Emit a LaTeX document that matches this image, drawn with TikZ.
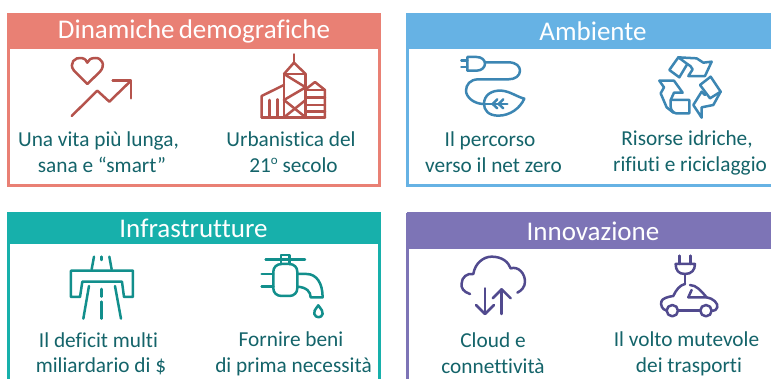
\documentclass[tikz,border=0pt]{standalone}
\usepackage{fontspec}
\setmainfont{Carlito}[Ligatures=NoCommon]
\definecolor{redh}{HTML}{E98074}
\definecolor{redi}{HTML}{B5534C}
\definecolor{blueh}{HTML}{66B2E4}
\definecolor{bluei}{HTML}{3C86B3}
\definecolor{tealh}{HTML}{17B0AB}
\definecolor{teali}{HTML}{128F8C}
\definecolor{purh}{HTML}{7D74B6}
\definecolor{puri}{HTML}{514A8E}
\definecolor{txt}{HTML}{14646A}
\tikzset{
 hdr/.style={font=\fontsize{27}{27}\selectfont,text=white,anchor=center,inner sep=0pt},
 lab/.style={font=\fontsize{21.3}{25.5}\selectfont,text=txt,align=center,anchor=center,inner sep=0pt},
 ico/.style={line width=2.5pt,line join=round,line cap=round},
 frame/.style={line width=2.2pt},
}
\begin{document}
\begin{tikzpicture}[x=1pt,y=-1pt]
\useasboundingbox (0,0) rectangle (771,378);
\fill[white] (0,0) rectangle (771,378);
% frames
\draw[frame,redh] (8.5,14) rectangle (379.5,185.5);
\fill[redh] (7.5,12.5) rectangle (380.5,49);
\draw[frame,blueh] (772,14) -- (407.5,14) -- (407.5,185.5) -- (772,185.5);
\fill[blueh] (406.5,12.5) rectangle (771,49);
\draw[frame,tealh] (8.5,379) -- (8.5,213) -- (379.5,213) -- (379.5,379);
\fill[tealh] (7.5,212) rectangle (380.5,244);
\draw[frame,purh] (407.5,379) -- (407.5,213);
\fill[purh] (406.5,212) rectangle (771,249);
\node[hdr] (h1) at (194,31) {Dinamiche\hspace{-2pt} demografiche};
\node[hdr] (h2) at (593,31) {Ambiente};
\node[hdr] (h3) at (193.5,228.5) {Infrastrutture};
\node[hdr] (h4) at (593,231) {Innovazione};
\node[lab] (l1) at (98.5,152) {Una vita più lunga,\\\hspace*{7pt}sana e “smart”};
\node[lab] (l2) at (291,152) {Urbanistica del\\\hspace*{5pt}21\raisebox{.36em}{\fontsize{13}{13}\selectfont o} secolo};
\node[lab] (l3) at (490,152) {Il percorso\\\hspace*{7pt}verso il net zero};
\node[lab] (l4) at (687,153) {Risorse idriche,\\\hspace*{6pt}rifiuti e riciclaggio};
\node[lab] (l5) at (98.5,354) {Il deficit multi\\\hspace*{5pt}miliardario di \$};
\node[lab] (l6) at (291,354) {Fornire beni\\\hspace*{5pt}di prima necessità};
\node[lab] (l7) at (493,353) {Cloud e\\connettività};
\node[lab] (l8) at (686.5,354) {Il volto mutevole\\\hspace*{5pt}dei trasporti};
% heart + arrow
\begin{scope}[ico,draw=redi,x=.3333pt,y=-.3333pt]
\draw (262,252) -- (222,212) .. controls (205,190) and (225,170) .. (245,174) .. controls (255,176) and (260,182) .. (262,188) .. controls (265,180) and (272,174) .. (285,174) .. controls (305,172) and (318,195) .. (300,215) -- cycle;
\draw (215,348) -- (292,272) -- (328,305) -- (393,242);
\draw (338,242) -- (393,242) -- (393,295);
% buildings
\draw (882,163) -- (882,190);
\draw (852,222) -- (882,188) -- (917,222);
\draw (852,222) -- (917,222) -- (917,352) -- (852,352) -- cycle;
\draw (852,222) -- (917,262) -- (852,300) -- (917,352);
\draw (852,352) -- (917,300);
\draw (785,352) -- (975,352);
\draw (785,352) -- (785,288) -- (852,255);
\draw (808,352) -- (808,300);
\draw (832,352) -- (832,298);
\draw (917,268) -- (945,246) -- (975,270) -- (975,352);
\draw (917,270) -- (975,270);
\draw (917,292) -- (975,292);
\draw (917,315) -- (975,315);
\draw (917,335) -- (975,335);
\end{scope}
% plug + leaf
\begin{scope}[ico,draw=bluei,x=.3333pt,y=-.3333pt,xshift=390pt]
\draw (214,181) -- (232,181);
\draw (214,201) -- (232,201);
\draw (232,171) -- (260,171) .. controls (275,171) and (285,180) .. (285,191) .. controls (285,202) and (275,212) .. (260,212) -- (232,212) -- cycle;
\draw (285,187) -- (355,187) .. controls (380,187) and (390,200) .. (390,212) .. controls (390,228) and (375,238) .. (355,238) -- (265,238) .. controls (240,238) and (228,255) .. (228,272) .. controls (228,290) and (250,312) .. (282,312);
\draw (282,312) .. controls (282,285) and (305,270) .. (335,272) .. controls (360,274) and (380,290) .. (403,296) .. controls (390,325) and (360,347) .. (325,347) .. controls (295,347) and (282,330) .. (282,312);
\draw (282,312) -- (352,312);
\draw (322,298) -- (308,312) -- (322,325);
\draw (340,298) -- (326,312) -- (340,325);
\end{scope}
% recycle
\begin{scope}[ico,draw=bluei,x=.3333pt,y=-.3333pt,xshift=650pt,yshift=-50pt]
\draw (58,60) -- (85,22) -- (112,42) -- (88,82) -- cycle;
\draw (85,22) -- (140,25) -- (160,38) -- (185,35) -- (165,78) -- (115,78) -- (128,58) .. controls (125,50) and (118,45) .. (112,42);
\draw (62,150) -- (118,150) -- (118,190) -- (78,190) .. controls (68,188) and (62,178) .. (62,170) -- cycle;
\draw (28,92) -- (72,92) -- (98,128) -- (72,128) -- (62,150);
\draw (28,92) -- (42,112) -- (32,130) -- (50,172) -- (70,188);
\draw (150,105) -- (182,80) -- (212,125) -- (180,145) -- cycle;
\draw (212,125) -- (190,165) -- (155,172) -- (155,203) -- (130,165) -- (155,125) -- (165,135);
\end{scope}
% road
\begin{scope}[ico,draw=teali,x=.3333pt,y=-.3333pt,yshift=-190pt]
\draw (275,238) -- (282,200);
\draw (335,238) -- (328,200);
\draw (305,200) -- (305,210);
\draw (213,242) -- (399,242) -- (399,321) -- (372,321) -- (366,275) -- (247,275) -- (240,321) -- (213,321) -- cycle;
\draw (267,288) -- (250,386);
\draw (345,288) -- (363,386);
\draw (305,297) -- (305,320);
\draw (305,335) -- (305,386);
% tap
\draw (797,209) -- (915,209);
\draw (843,222) -- (843,195) -- (868,195) -- (868,222);
\draw (855,222) -- (845,222) .. controls (830,222) and (820,232) .. (820,245) -- (820,295) .. controls (820,308) and (830,318) .. (845,318) -- (868,318) .. controls (882,318) and (892,308) .. (892,295) -- (892,245) .. controls (892,232) and (882,222) .. (868,222) -- cycle;
\draw (785,252) -- (820,252);
\draw (785,290) -- (820,290);
\draw (892,252) -- (920,252) .. controls (950,252) and (968,280) .. (968,322) -- (932,322) .. controls (932,305) and (920,292) .. (892,290);
\draw (955,346) .. controls (945,360) and (940,365) .. (943,372) .. controls (947,385) and (965,385) .. (968,372) .. controls (970,365) and (965,360) .. (955,346) -- cycle;
\end{scope}
% cloud
\begin{scope}[ico,draw=puri,x=.3333pt,y=-.3333pt,xshift=390pt,yshift=-190pt]
\draw (240,312) .. controls (220,305) and (213,295) .. (215,280) .. controls (215,262) and (232,248) .. (250,252) .. controls (255,220) and (280,200) .. (305,200) .. controls (335,200) and (355,215) .. (362,235) .. controls (385,228) and (405,250) .. (405,275) .. controls (405,290) and (395,302) .. (382,308);
\draw (285,295) -- (285,372);
\draw (258,345) -- (285,372) -- (312,345);
\draw (335,372) -- (335,298);
\draw (308,325) -- (335,298) -- (362,325);
% car
\draw (868,197) -- (868,222);
\draw (902,197) -- (902,222);
\draw (857,222) -- (915,222) .. controls (915,240) and (905,252) .. (885,252) .. controls (865,252) and (857,240) .. (857,222) -- cycle;
\draw (885,252) -- (885,282);
\draw (830,362) .. controls (815,358) and (812,345) .. (814,335) .. controls (816,325) and (835,320) .. (850,318) .. controls (858,300) and (870,285) .. (885,282);
\draw (900,285) .. controls (920,285) and (935,305) .. (950,322) .. controls (970,325) and (985,340) .. (982,352) .. controls (980,360) and (975,362) .. (965,362);
\draw (865,362) -- (930,362);
\draw (905,300) -- (895,322) -- (950,322);
\draw (847,362) circle[radius=17];
\draw (948,362) circle[radius=17];
\end{scope}
\end{tikzpicture}
\end{document}
